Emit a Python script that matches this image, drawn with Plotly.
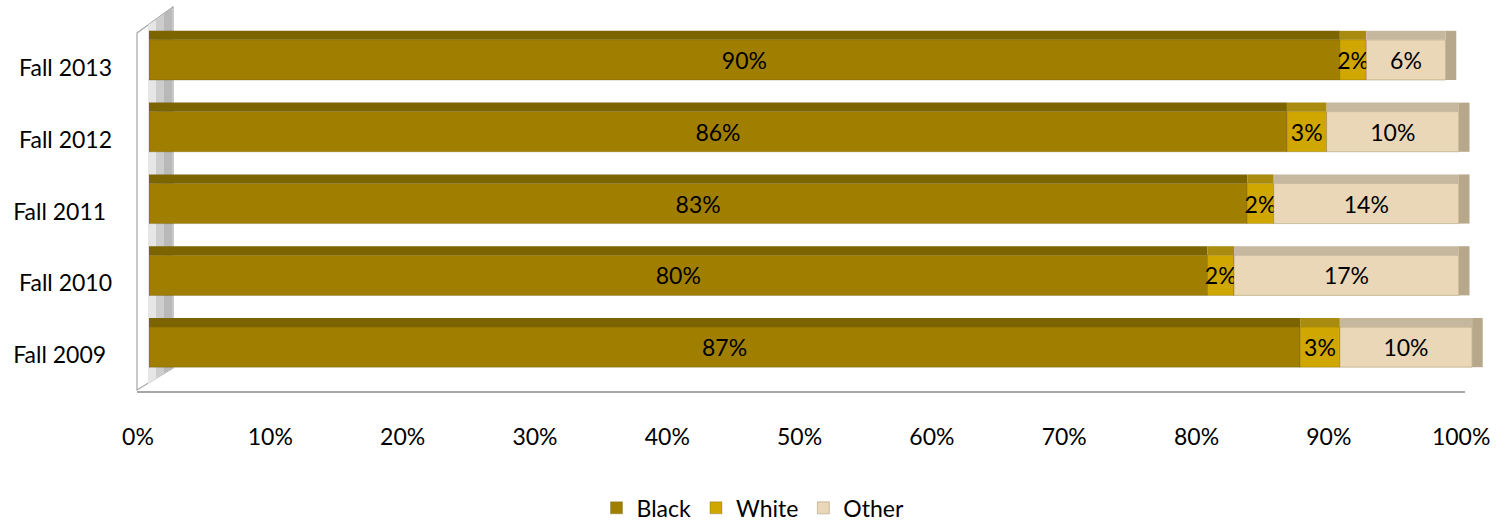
import numpy as np
import plotly.graph_objects as go

# ---- data ----
categories = ["Fall 2009", "Fall 2010", "Fall 2011", "Fall 2012", "Fall 2013"]
category_labels = ["Fall 2009\u00a0", "Fall 2010", "Fall 2011\u00a0", "Fall 2012", "Fall 2013"]
black = [87, 80, 83, 86, 90]
white = [3, 2, 2, 3, 2]
other = [10, 17, 14, 10, 6]
x_ticks = [0, 10, 20, 30, 40, 50, 60, 70, 80, 90, 100]
x_tick_labels = [f"{v}%" for v in x_ticks]

series = [
    ("Black", black, "#A07F00", "#7C6400"),
    ("White", white, "#D0A600", "#A98B10"),
    ("Other", other, "#EAD7B8", "#C6B89E"),
]

FONT = "Lato"
W, H = 1503, 522
XMAX = 101.5
ML, MT, MB = 149, 24, 139
PW = round(1323 * XMAX / 100)
MR = W - ML - PW
PH = H - MT - MB

fig = go.Figure()

base = np.zeros(len(categories))
for name, vals, front, top in series:
    vals = np.array(vals, dtype=float)
    # front face
    fig.add_trace(go.Bar(
        y=categories, x=vals, base=base, orientation="h", name=name,
        width=0.56, marker=dict(color=front, line=dict(color="rgba(90,72,0,0.35)", width=0.8)),
        text=[f"{int(v)}%" for v in vals], textposition="inside", textangle=0,
        insidetextanchor="middle", constraintext="none",
        textfont=dict(family=FONT, size=23, color="#000000"),
        hoverinfo="skip", cliponaxis=False,
    ))
    # top face (3D look)
    fig.add_trace(go.Bar(
        y=categories, x=vals, base=base, orientation="h", name=name + " top",
        width=0.125, offset=0.28, marker=dict(color=top, line=dict(width=0)),
        showlegend=False, hoverinfo="skip",
    ))
    base = base + vals

# right end cap of each stacked bar (3D side face)
fig.add_trace(go.Bar(
    y=categories, x=[0.8] * len(categories), base=base, orientation="h",
    width=0.685, offset=-0.28, marker=dict(color="#B8A88B", line=dict(width=0)),
    showlegend=False, hoverinfo="skip",
))


def px2paper(px, py):
    return (px - ML) / PW, (H - MB - py) / PH


def path(points):
    pts = [px2paper(*p) for p in points]
    return "M " + " L ".join(f"{x:.5f},{y:.5f}" for x, y in pts) + " Z"


shapes = []
# side wall
shapes.append(dict(type="path", xref="paper", yref="paper", layer="below",
                   path=path([(137, 33), (173, 7), (173, 368), (137, 390)]),
                   fillcolor="#FFFFFF", line=dict(color="#A6A6A6", width=1.2)))
shapes.append(dict(type="path", xref="paper", yref="paper", layer="below",
                   path=path([(148, 25), (172, 9), (172, 368), (148, 384)]),
                   fillcolor="#E6E6E6", line=dict(width=0)))
shapes.append(dict(type="path", xref="paper", yref="paper", layer="below",
                   path=path([(156, 19), (172, 9), (172, 368), (156, 378)]),
                   fillcolor="#CDCDCD", line=dict(width=0)))
shapes.append(dict(type="path", xref="paper", yref="paper", layer="below",
                   path=path([(164, 13), (172, 9), (172, 368), (164, 373)]),
                   fillcolor="#B9B9B9", line=dict(width=0)))
# floor line
x0, y0 = px2paper(137, 392)
x1, _ = px2paper(1465, 392)
shapes.append(dict(type="line", xref="paper", yref="paper", x0=x0, x1=x1, y0=y0, y1=y0,
                   line=dict(color="#A6A6A6", width=2)))

fig.update_layout(
    width=W, height=H,
    margin=dict(l=ML, r=MR, t=MT, b=MB, pad=0),
    barmode="overlay",
    plot_bgcolor="rgba(0,0,0,0)", paper_bgcolor="#FFFFFF",
    font=dict(family=FONT, size=23, color="#000000"),
    shapes=shapes,
    showlegend=True,
    legend=dict(orientation="h", xref="container", yref="container",
                x=0.501, y=0.027, xanchor="center", yanchor="middle",
                font=dict(family=FONT, size=23), traceorder="normal",
                itemwidth=30),
    xaxis=dict(range=[0, XMAX], tickvals=x_ticks, ticktext=x_tick_labels,
               showgrid=False, zeroline=False, showline=False, ticks="",
               ticklabelshift=-11, ticklabelstandoff=38,
               tickfont=dict(family=FONT, size=23)),
    yaxis=dict(categoryorder="array", categoryarray=categories,
               tickvals=categories, ticktext=category_labels,
               range=[-0.5, 4.5], showgrid=False, zeroline=False, showline=False,
               ticks="", ticklabelshift=8, ticklabelstandoff=36,
               tickfont=dict(family=FONT, size=23)),
    uniformtext=dict(minsize=23, mode="show"),
)

fig.write_html("out.html", config={"displayModeBar": False},
               post_script="document.body.style.margin='0';")
